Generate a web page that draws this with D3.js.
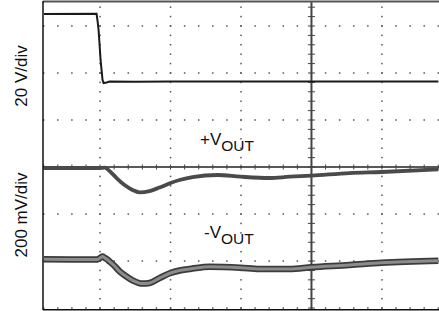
<!DOCTYPE html>
<html>
<head>
<meta charset="utf-8">
<script src="https://cdn.jsdelivr.net/npm/d3@7"></script>
<style>
  html, body { margin: 0; padding: 0; background: #fff; }
  svg { display: block; font-family: "Liberation Sans", Arial, sans-serif; }
</style>
</head>
<body>
<svg id="chart" width="439" height="311"></svg>
<script>
// scope trace, units are screen divisions (0,0 = centre cross of the graticule)

// channel 1 (20 V/div) - input step
const ch1Time = [-3.816, -3.05, -3.035, -3.021, -3.007, -2.993, -2.965, -2.950, -2.908, -2.865, -2.5, -2.0, -1.0, 0, 1.0, 1.801];
const ch1Volt = [3.255, 3.26, 3.10, 2.915, 2.60, 2.277, 1.851, 1.787, 1.798, 1.819, 1.815, 1.819, 1.817, 1.819, 1.817, 1.819];

// +VOUT (200 mV/div)
const posTime = [-3.816, -3.4, -3.007, -2.936, -2.851, -2.766, -2.652, -2.539, -2.440, -2.298, -2.156, -2.0, -1.872, -1.688, -1.333, -1.007, -0.596, -0.312, 0, 0.539, 0.993, 1.801];
const posVolt = [-0.021, -0.021, -0.021, -0.015, -0.106, -0.234, -0.383, -0.489, -0.538, -0.511, -0.436, -0.340, -0.277, -0.213, -0.170, -0.206, -0.234, -0.206, -0.183, -0.128, -0.106, -0.049];

// -VOUT (200 mV/div)
const negTime = [-3.816, -3.4, -3.035, -2.993, -2.965, -2.936, -2.908, -2.865, -2.794, -2.723, -2.624, -2.539, -2.397, -2.298, -2.156, -2.0, -1.872, -1.688, -1.447, -1.007, -0.738, -0.312, 0, 0.539, 0.993, 1.801];
const negVolt = [-1.964, -1.966, -1.965, -1.925, -1.905, -1.930, -1.955, -2.010, -2.106, -2.220, -2.330, -2.410, -2.480, -2.468, -2.362, -2.255, -2.202, -2.160, -2.121, -2.143, -2.170, -2.170, -2.134, -2.085, -2.036, -1.994];

const yLabels = ["20 V/div", "200 mV/div"];
const traceLabels = ["+V", "-V"];
const traceSub = "OUT";

const svg = d3.select("#chart");
const plotL = 43, plotR = 439, plotT = 2, plotB = 309;

const x = d3.scaleLinear().domain([-3.81, 1.81]).range([plotL, plotR]);
const y = d3.scaleLinear().domain([-3.02, 3.51]).range([plotB, plotT]);

// graticule
const g = svg.append("g");
const xMajor = [-3, -2, -1, 1];
const yMajor = [-3, -2, -1, 1, 2, 3];
const minorY = d3.range(-15, 18).map(k => k * 0.2);
const minorX = d3.range(-19, 10).map(k => k * 0.2);

xMajor.forEach(v => {
  g.selectAll(null).data(minorY).join("rect")
    .attr("x", x(v) - 0.75).attr("y", d => y(d) - 0.75)
    .attr("width", 1.5).attr("height", 1.5)
    .attr("fill", "#555");
});
yMajor.forEach(v => {
  g.selectAll(null).data(minorX).join("rect")
    .attr("x", d => x(d) - 0.75).attr("y", y(v) - 0.75)
    .attr("width", 1.5).attr("height", 1.5)
    .attr("fill", "#555");
});

// centre axes with minor ticks
g.append("line")
  .attr("x1", plotL).attr("x2", plotR)
  .attr("y1", y(0)).attr("y2", y(0))
  .attr("stroke", "#222").attr("stroke-width", 1.5);
g.append("line")
  .attr("x1", x(0)).attr("x2", x(0))
  .attr("y1", plotT).attr("y2", plotB)
  .attr("stroke", "#444").attr("stroke-width", 2);

g.selectAll(null).data(minorX).join("line")
  .attr("x1", d => x(d)).attr("x2", d => x(d))
  .attr("y1", y(0) - 2.5).attr("y2", y(0) + 2.5)
  .attr("stroke", "#444").attr("stroke-width", 1);
g.selectAll(null).data(minorY).join("line")
  .attr("x1", x(0) - 3.5).attr("x2", x(0) + 3.5)
  .attr("y1", d => y(d)).attr("y2", d => y(d))
  .attr("stroke", "#444").attr("stroke-width", 1);

// frame
svg.append("line").attr("x1", plotL).attr("x2", plotR).attr("y1", 1.5).attr("y2", 1.5)
  .attr("stroke", "#555").attr("stroke-width", 2);
svg.append("line").attr("x1", plotL).attr("x2", plotL).attr("y1", 1).attr("y2", plotB + 1)
  .attr("stroke", "#111").attr("stroke-width", 1.5);
svg.append("line").attr("x1", plotL).attr("x2", plotR).attr("y1", plotB + 0.8).attr("y2", plotB + 0.8)
  .attr("stroke", "#111").attr("stroke-width", 1.5);

// traces
svg.append("clipPath").attr("id", "plot")
  .append("rect").attr("x", plotL + 1).attr("y", plotT).attr("width", plotR - plotL).attr("height", plotB - plotT);

const lineLin = d3.line().x(d => x(d[0])).y(d => y(d[1]));
const lineSmooth = d3.line().x(d => x(d[0])).y(d => y(d[1])).curve(d3.curveMonotoneX);

const traces = svg.append("g").attr("clip-path", "url(#plot)");

traces.append("path")
  .datum(negTime.map((t, i) => [t, negVolt[i]]))
  .attr("d", lineSmooth)
  .attr("fill", "none").attr("stroke", "#3c3c3c").attr("stroke-width", 6.5);
traces.append("path")
  .datum(negTime.map((t, i) => [t, negVolt[i]]))
  .attr("d", lineSmooth)
  .attr("fill", "none").attr("stroke", "#8c8c8c").attr("stroke-width", 3);

traces.append("path")
  .datum(posTime.map((t, i) => [t, posVolt[i]]))
  .attr("d", lineSmooth)
  .attr("fill", "none").attr("stroke", "#4a4a4a").attr("stroke-width", 3.8);

traces.append("path")
  .datum(ch1Time.map((t, i) => [t, ch1Volt[i]]))
  .attr("d", lineLin)
  .attr("fill", "none").attr("stroke", "#1a1a1a").attr("stroke-width", 2);

// y labels
svg.selectAll(null).data(yLabels).join("text")
  .attr("transform", (d, i) => `translate(27,${i === 0 ? 76 : 215}) rotate(-90)`)
  .attr("text-anchor", "middle")
  .attr("font-size", 17)
  .attr("fill", "#111")
  .text(d => d);

// trace labels
const labelPos = [[200, 145], [204, 238]];
traceLabels.forEach((lab, i) => {
  const t = svg.append("text")
    .attr("x", labelPos[i][0]).attr("y", labelPos[i][1])
    .attr("font-size", 17).attr("fill", "#111");
  t.append("tspan").text(lab);
  t.append("tspan").attr("dy", 6).attr("font-size", 15.5).text(traceSub);
});
</script>
</body>
</html>
